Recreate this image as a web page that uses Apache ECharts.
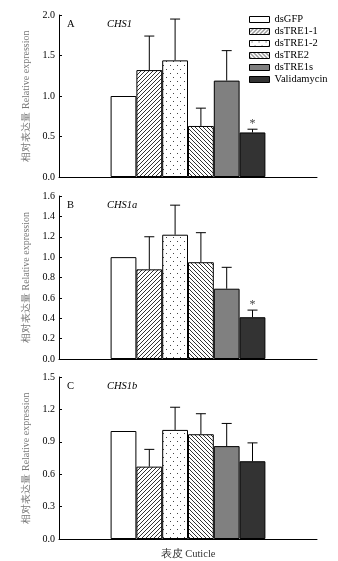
<!DOCTYPE html>
<html>
<head>
<meta charset="utf-8">
<script src="https://cdn.jsdelivr.net/npm/echarts@6/dist/echarts.min.js"></script>
<style>
  html, body { margin: 0; padding: 0; background: #fff; }
  #chart { width: 338px; height: 561px; }
</style>
</head>
<body>
<div id="chart"></div>
<script>
// Treatments (one bar series each)
const treatments = ['dsGFP', 'dsTRE1-1', 'dsTRE1-2', 'dsTRE2', 'dsTRE1s', 'Validamycin'];

// Relative expression in cuticle: means and upper error-bar ends
const chs1Mean   = [1.00, 1.32, 1.44, 0.63, 1.19, 0.55];
const chs1Upper  = [null, 1.74, 1.95, 0.85, 1.56, 0.59];
const chs1aMean  = [1.00, 0.88, 1.22, 0.95, 0.69, 0.41];
const chs1aUpper = [null, 1.20, 1.51, 1.24, 0.90, 0.48];
const chs1bMean  = [1.00, 0.67, 1.01, 0.97, 0.86, 0.72];
const chs1bUpper = [null, 0.83, 1.22, 1.16, 1.07, 0.89];

// Significance marks
const chs1Sig  = ['', '', '', '', '', '*'];
const chs1aSig = ['', '', '', '', '', '*'];
const chs1bSig = ['', '', '', '', '', ''];

// Y-axis ranges per panel
const yMax      = [2.0, 1.6, 1.5];
const yInterval = [0.5, 0.2, 0.3];

const panelLetters = ['A', 'B', 'C'];
const geneNames    = ['CHS1', 'CHS1a', 'CHS1b'];

const SERIF = '"Liberation Serif", "Times New Roman", serif';

// Fill patterns drawn on small tiles
function tile(w, h, draw) {
  const c = document.createElement('canvas');
  c.width = w; c.height = h;
  const g = c.getContext('2d');
  g.fillStyle = '#fff';
  g.fillRect(0, 0, w, h);
  draw(g);
  return c;
}
const fwdHatch = tile(4, 4, g => {
  g.strokeStyle = '#333'; g.lineWidth = 1;
  g.beginPath();
  g.moveTo(-1, 5); g.lineTo(5, -1);
  g.moveTo(-1, 1); g.lineTo(1, -1);
  g.moveTo(3, 5); g.lineTo(5, 3);
  g.stroke();
});
const backHatch = tile(4, 4, g => {
  g.strokeStyle = '#333'; g.lineWidth = 1;
  g.beginPath();
  g.moveTo(-1, -1); g.lineTo(5, 5);
  g.moveTo(3, -1); g.lineTo(5, 1);
  g.moveTo(-1, 3); g.lineTo(1, 5);
  g.stroke();
});
const dotFill = tile(7, 8, g => {
  g.fillStyle = '#444';
  g.fillRect(2, 1, 1, 1);
  g.fillRect(5, 5, 1, 1);
});

const fills = [
  '#ffffff',
  { image: fwdHatch, repeat: 'repeat' },
  { image: dotFill, repeat: 'repeat' },
  { image: backHatch, repeat: 'repeat' },
  '#808080',
  '#333333'
];

const means  = [chs1Mean, chs1aMean, chs1bMean];
const uppers = [chs1Upper, chs1aUpper, chs1bUpper];
const sigs   = [chs1Sig, chs1aSig, chs1bSig];

const grids = [
  { left: 59, right: 21, top: 15, height: 162 },
  { left: 59, right: 21, top: 196, height: 163 },
  { left: 59, right: 21, top: 377, height: 162 }
];

const CAT_GAP = 0.4;

const xAxes = grids.map((_, i) => ({
  type: 'category',
  gridIndex: i,
  data: ['表皮'],
  axisLine: { lineStyle: { color: '#000', width: 1 } },
  axisTick: { show: false },
  axisLabel: { show: false },
  name: i === 2 ? '表皮 Cuticle' : '',
  nameLocation: 'middle',
  nameGap: 10,
  nameTextStyle: { fontFamily: SERIF, fontSize: 10.5, color: '#333' }
}));

const yAxes = grids.map((_, i) => ({
  type: 'value',
  gridIndex: i,
  min: 0,
  max: yMax[i],
  interval: yInterval[i],
  axisLine: { show: true, lineStyle: { color: '#000', width: 1 } },
  axisTick: { show: true, inside: true, length: 3, lineStyle: { color: '#000' } },
  axisLabel: {
    fontFamily: SERIF, fontSize: 10, color: '#000', margin: 4,
    formatter: v => v.toFixed(1)
  },
  splitLine: { show: false },
  name: '相对表达量 Relative expression',
  nameLocation: 'middle',
  nameRotate: 90,
  nameGap: 27,
  nameTextStyle: { fontFamily: SERIF, fontSize: 10, color: '#777' }
}));

const series = [];
grids.forEach((_, p) => {
  treatments.forEach((name, k) => {
    series.push({
      type: 'bar',
      name: name,
      xAxisIndex: p,
      yAxisIndex: p,
      barGap: '0%',
      barCategoryGap: (CAT_GAP * 100) + '%',
      data: [means[p][k]],
      itemStyle: { color: fills[k], borderColor: '#000', borderWidth: 1 },
      emphasis: { disabled: true },
      animation: false
    });
  });
  // Upper error bars and significance marks
  series.push({
    type: 'custom',
    xAxisIndex: p,
    yAxisIndex: p,
    silent: true,
    animation: false,
    data: treatments.map((_, k) => [0, means[p][k], uppers[p][k] == null ? means[p][k] : uppers[p][k], k]),
    encode: { x: 0, y: [1, 2] },
    renderItem: (params, api) => {
      const k = api.value(3);
      const band = api.size([1, 0])[0];
      const barW = band * (1 - CAT_GAP) / treatments.length;
      const base = api.coord([0, api.value(1)]);
      const top = api.coord([0, api.value(2)]);
      const cx = base[0] - band * (1 - CAT_GAP) / 2 + (k + 0.5) * barW;
      const children = [];
      if (uppers[p][k] != null) {
        const cap = 5;
        children.push({
          type: 'line',
          shape: { x1: cx, y1: base[1], x2: cx, y2: top[1] },
          style: { stroke: '#000', lineWidth: 1 }
        });
        children.push({
          type: 'line',
          shape: { x1: cx - cap, y1: top[1], x2: cx + cap, y2: top[1] },
          style: { stroke: '#000', lineWidth: 1 }
        });
      }
      if (sigs[p][k]) {
        children.push({
          type: 'text',
          style: {
            x: cx, y: top[1] + 1, text: sigs[p][k],
            fill: '#444', font: '12px ' + SERIF,
            textAlign: 'center', textVerticalAlign: 'bottom'
          }
        });
      }
      return { type: 'group', children: children };
    }
  });
});

// Panel letters and gene names
const graphics = [];
grids.forEach((g, p) => {
  graphics.push({
    type: 'text', left: 67, top: g.top + 4,
    style: { text: panelLetters[p], font: '10.5px ' + SERIF, fill: '#000' }
  });
  graphics.push({
    type: 'text', left: 107, top: g.top + 4,
    style: { text: geneNames[p], font: 'italic 10.5px ' + SERIF, fill: '#000' }
  });
});

const chart = echarts.init(document.getElementById('chart'), null, { renderer: 'canvas' });
chart.setOption({
  backgroundColor: '#fff',
  animation: false,
  grid: grids,
  xAxis: xAxes,
  yAxis: yAxes,
  legend: {
    data: treatments,
    orient: 'vertical',
    left: 244,
    top: 9,
    icon: 'rect',
    itemWidth: 20,
    itemHeight: 6,
    itemGap: 1,
    selectedMode: false,
    itemStyle: { borderColor: '#000', borderWidth: 1 },
    textStyle: { fontFamily: SERIF, fontSize: 10.5, color: '#000', lineHeight: 11, padding: [0, 0, 0, 0] }
  },
  graphic: graphics,
  series: series
});
</script>
</body>
</html>
